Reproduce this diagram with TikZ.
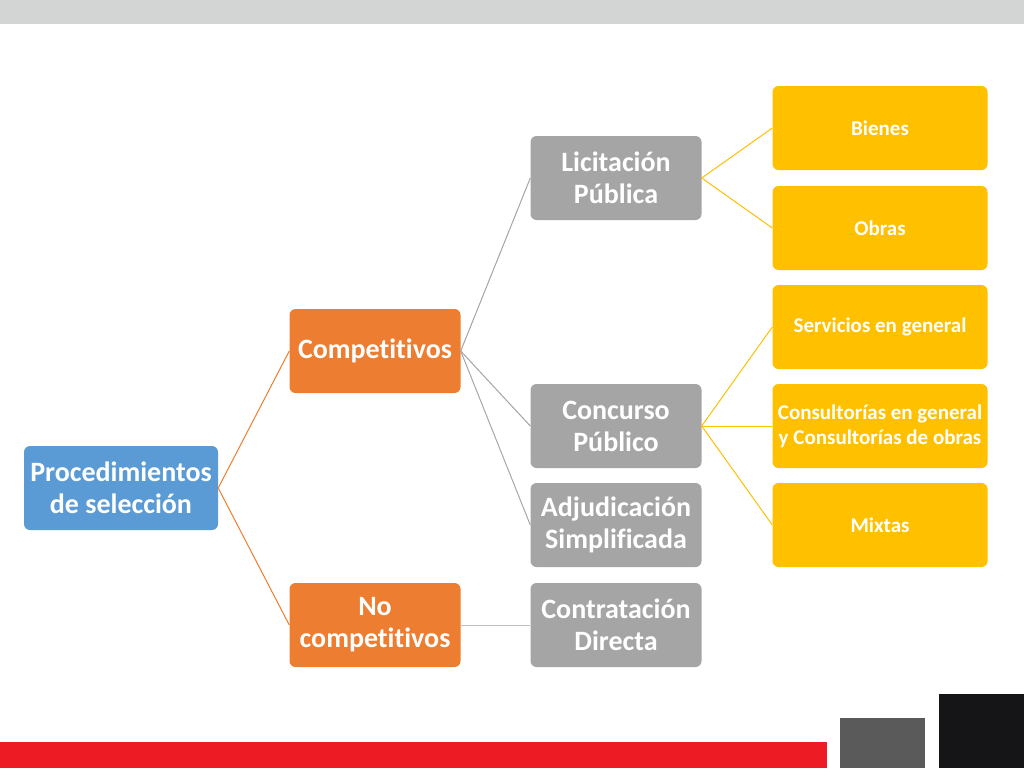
\documentclass[tikz,border=0pt]{standalone}
\usepackage{fontspec}
\setmainfont{Carlito}[Ligatures=NoCommon]
\usepackage{tikz}
\usetikzlibrary{positioning}
\definecolor{boxblue}{HTML}{5B9BD5}
\definecolor{boxorange}{HTML}{ED7D31}
\definecolor{boxgray}{HTML}{A5A5A5}
\definecolor{boxyellow}{HTML}{FFC000}
\definecolor{topbar}{HTML}{D3D5D4}
\definecolor{redbar}{HTML}{ED1C24}
\definecolor{darkgray}{HTML}{595A59}
\definecolor{nearblack}{HTML}{151518}
\begin{document}
\begin{tikzpicture}[x=1pt,y=-1pt,
    box/.style={rectangle,rounded corners=6pt,text=white,align=center,font=\bfseries,inner sep=0pt},
    big node/.style={box,minimum width=171pt,minimum height=84pt,font=\fontsize{28}{32}\bfseries\selectfont},
    blue node/.style={big node,fill=boxblue,minimum width=194pt},
    orange node/.style={big node,fill=boxorange},
    gray node/.style={big node,fill=boxgray},
    yellow node/.style={box,fill=boxyellow,minimum width=215pt,minimum height=84pt,font=\fontsize{21}{25}\bfseries\selectfont}]
   % page and frame
   \fill[white] (0,0) rectangle (1024,768);
   \fill[topbar] (0,0) rectangle (1024,24);
   \fill[redbar] (0,742) rectangle (827,768);
   \fill[darkgray] (840,718) rectangle (925,768);
   \fill[nearblack] (939,694) rectangle (1024,768);
   \begin{scope}
      \node[blue node] (proc) at (121,488) {Procedimientos\\de selección};
      \node[orange node] (comp) at (375,351) {Competitivos};
      \node[orange node] (nocomp) at (375,625) {No\\competitivos};
      \node[gray node] (licit) at (616,178) {Licitación\\Pública};
      \node[gray node] (concurso) at (616,426) {Concurso\\Público};
      \node[gray node] (adjud) at (616,525) {Adjudicación\\Simplificada};
      \node[gray node] (directa) at (616,625) {Contratación\\Directa};
      \node[yellow node] (bienes) at (880,128) {Bienes};
      \node[yellow node] (obras) at (880,228) {Obras};
      \node[yellow node] (servicios) at (880,327) {Servicios en general};
      \node[yellow node] (consult) at (880,426) {Consultorías en general\\y Consultorías de obras};
      \node[yellow node] (mixtas) at (880,525) {Mixtas};
       \path[-,line width=1pt,boxorange] (proc.east) edge (comp.west);
       \path[-,line width=1pt,boxorange] (proc.east) edge (nocomp.west);
       \path[-,line width=1pt,boxgray] (comp.east) edge (licit.west);
       \path[-,line width=1pt,boxgray] (comp.east) edge (concurso.west);
       \path[-,line width=1pt,boxgray] (comp.east) edge (adjud.west);
       \path[-,line width=1pt,boxgray!70] (nocomp.east) edge (directa.west);
       \path[-,line width=1pt,boxyellow] (licit.east) edge (bienes.west);
       \path[-,line width=1pt,boxyellow] (licit.east) edge (obras.west);
       \path[-,line width=1pt,boxyellow] (concurso.east) edge (servicios.west);
       \path[-,line width=1pt,boxyellow] (concurso.east) edge (consult.west);
       \path[-,line width=1pt,boxyellow] (concurso.east) edge (mixtas.west);
   \end{scope}
\end{tikzpicture}
\end{document}
